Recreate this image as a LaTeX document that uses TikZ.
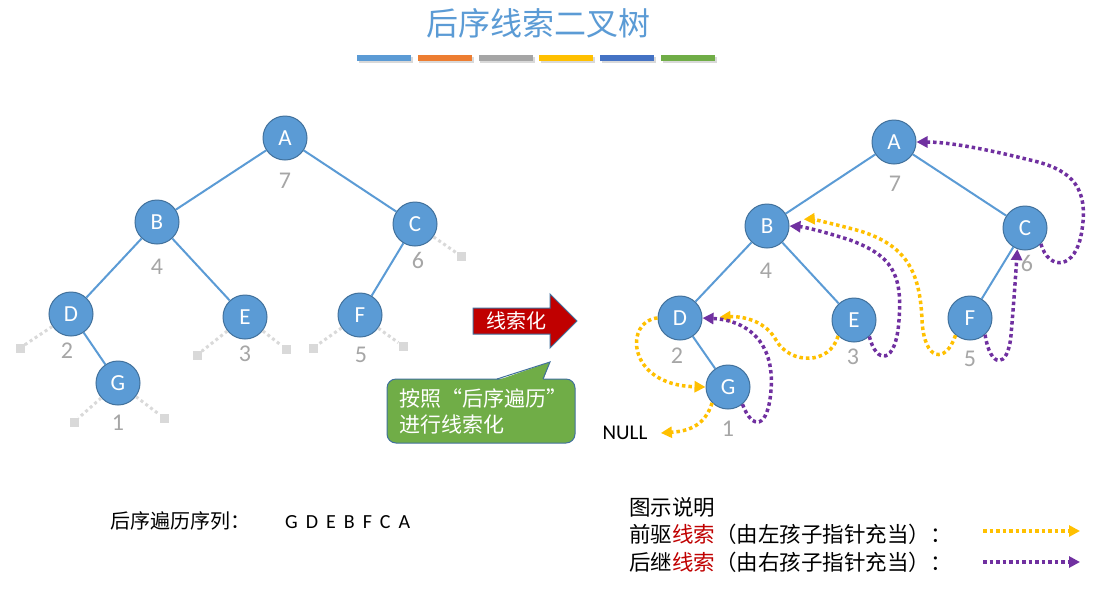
\documentclass[tikz,border=0pt]{standalone}
\usepackage{fontspec}
\setmainfont{Carlito}
\newfontfamily\cjk{Noto Sans CJK SC}
\usetikzlibrary{arrows.meta}
\definecolor{nodeblue}{HTML}{5B9BD5}
\definecolor{nodeedge}{HTML}{41719C}
\definecolor{numgray}{HTML}{A6A6A6}
\definecolor{stubgray}{HTML}{D9D9D9}
\definecolor{predyellow}{HTML}{FFC000}
\definecolor{succpurple}{HTML}{7030A0}
\definecolor{threadred}{HTML}{C00000}
\definecolor{calloutgreen}{HTML}{70AD47}
\definecolor{barorange}{HTML}{ED7D31}
\definecolor{bargray}{HTML}{A5A5A5}
\definecolor{bardarkblue}{HTML}{4472C4}
\newcommand\treefont{\fontsize{23}{27}\selectfont}
\newcommand\orderfont{\fontsize{24}{28}\selectfont}
\newcommand\keyfont{\fontsize{21.5}{26}\selectfont}

\begin{document}
\begin{tikzpicture}[x=1pt, y=-1pt,
    treenode/.style={circle, draw=nodeedge, line width=1pt, fill=nodeblue, minimum size=44pt, inner sep=0pt, text=white, font=\treefont},
    order/.style={text=numgray, font=\orderfont, inner sep=0pt},
    branch/.style={nodeblue, line width=2pt},
    nil/.style={rectangle, fill=stubgray, minimum size=9pt, inner sep=0pt},
    stub/.style={stubgray, line width=3pt, dash pattern=on 3pt off 3pt},
    pred/.style={predyellow, line width=3.5pt, dash pattern=on 3.5pt off 3pt, -{Triangle[length=11pt,width=11pt]}},
    succ/.style={pred, succpurple},
    legendtext/.style={anchor=west, inner sep=0pt, font=\cjk\keyfont}
]
    \fill[white] (0,0) rectangle (1118,590);
    \useasboundingbox (0,0) rectangle (1118,590);

    % titel en gekleurde balken
    \node[text=nodeblue, font=\cjk\fontsize{32}{36}\selectfont] (title) at (538,23) {后序线索二叉树};
    \foreach \c [count=\i] in {nodeblue,barorange,bargray,predyellow,bardarkblue,calloutgreen} {
        \pgfmathsetmacro\bx{357+(\i-1)*60.8}
        \fill[black!15] (\bx+1.5,57) rectangle (\bx+56,63);
        \fill[\c] (\bx,55) rectangle (\bx+54,61);
    }

    % linker boom
    \node[treenode] (lA) at (285,138) {A};
    \node[treenode] (lB) at (157,222) {B};
    \node[treenode] (lC) at (415,224) {C};
    \node[treenode] (lD) at (71,314) {D};
    \node[treenode] (lE) at (245,317) {E};
    \node[treenode] (lF) at (360,315) {F};
    \node[treenode] (lG) at (118,383) {G};
    \draw[branch] (lA) -- (lB);
    \draw[branch] (lA) -- (lC);
    \draw[branch] (lB) -- (lD);
    \draw[branch] (lB) -- (lE);
    \draw[branch] (lC) -- (lF);
    \draw[branch] (lD) -- (lG);

    % lege wijzers
    \node[nil] (lDl) at (20,348) {};
    \node[nil] (lCr) at (461,256) {};
    \node[nil] (lEl) at (197,355) {};
    \node[nil] (lEr) at (286,349) {};
    \node[nil] (lFl) at (313,348) {};
    \node[nil] (lFr) at (403,346) {};
    \node[nil] (lGl) at (74,422) {};
    \node[nil] (lGr) at (164,418) {};
    \draw[stub] (lD) -- (lDl);
    \draw[stub] (lC) -- (lCr);
    \draw[stub] (lE) -- (lEl);
    \draw[stub] (lE) -- (lEr);
    \draw[stub] (lF) -- (lFl);
    \draw[stub] (lF) -- (lFr);
    \draw[stub] (lG) -- (lGl);
    \draw[stub] (lG) -- (lGr);

    \node[order] (lnA) at (285,181) {7};
    \node[order] (lnB) at (157,267) {4};
    \node[order] (lnC) at (418,260) {6};
    \node[order] (lnD) at (67,351) {2};
    \node[order] (lnE) at (245,354) {3};
    \node[order] (lnF) at (361,355) {5};
    \node[order] (lnG) at (118,423) {1};

    % pijl en toelichting
    \draw[fill=threadred, draw=nodeedge, line width=1pt] (473,308) -- (550,308) -- (550,294) -- (577,321)
        -- (550,348) -- (550,334) -- (473,334) -- cycle;
    \node[text=white, font=\cjk\fontsize{20}{24}\selectfont] (mkthread) at (516,321) {线索化};
    \node[draw=nodeedge, line width=1pt, fill=calloutgreen, rounded corners=9pt, minimum width=188pt,
        minimum height=64pt, text width=164pt, align=left, text=white,
        font=\cjk\fontsize{21}{26}\selectfont] (hint) at (481,411) {按照“后序遍历”\\进行线索化};
    \fill[calloutgreen] (497,380.5) -- (550,362) -- (543,380.5) -- cycle;
    \draw[nodeedge, line width=1pt] (497,379) -- (550,362) -- (543,379);

    % rechter boom
    \node[treenode] (rA) at (894,142) {A};
    \node[treenode] (rB) at (767,226) {B};
    \node[treenode] (rC) at (1025,228) {C};
    \node[treenode] (rD) at (680,318) {D};
    \node[treenode] (rE) at (854,320) {E};
    \node[treenode] (rF) at (970,318) {F};
    \node[treenode] (rG) at (728,387) {G};
    \draw[branch] (rA) -- (rB);
    \draw[branch] (rA) -- (rC);
    \draw[branch] (rB) -- (rD);
    \draw[branch] (rB) -- (rE);
    \draw[branch] (rC) -- (rF);
    \draw[branch] (rD) -- (rG);

    \node[order] (rnA) at (895,184) {7};
    \node[order] (rnB) at (766,271) {4};
    \node[order] (rnC) at (1027,263) {6};
    \node[order] (rnD) at (677,356) {2};
    \node[order] (rnE) at (853,357) {3};
    \node[order] (rnF) at (970,359) {5};
    \node[order] (rnG) at (728,429) {1};
    \node[font=\fontsize{21}{25}\selectfont] (null) at (625,433) {NULL};

    % voorganger-draden
    \draw[pred] (rD.180) .. controls (625,320) and (625,385) .. (rG.180);
    \draw[pred] (rG.225) .. controls (705,425) and (690,431) .. ([xshift=10pt]null.east);
    \draw[pred, shorten >=17pt] (rE.225) .. controls (830,365) and (790,365) .. (776,340)
        .. controls (766,322) and (745,316) .. (rD.east);
    \draw[pred, shorten >=15pt] (rF.230) .. controls (946,364) and (924,362) .. (922,320)
        .. controls (920,270) and (905,245) .. (860,231) .. controls (835,224) and (810,219) .. (rB.15);

    % opvolger-draden
    \draw[succ] (rG.-50) .. controls (752,430) and (768,430) .. (771,390)
        .. controls (775,340) and (745,320) .. (rD.east);
    \draw[succ] (rE.-47) .. controls (876,364) and (896,366) .. (899,320)
        .. controls (903,272) and (890,255) .. (850,240) .. controls (825,232) and (805,227) .. (rB.east);
    \draw[succ] (rF.-48) .. controls (990,368) and (1008,370) .. (1011,335)
        .. controls (1014,300) and (1016,270) .. (rC.250);
    \draw[succ] (rC.-45) .. controls (1048,270) and (1076,272) .. (1082,230)
        .. controls (1088,190) and (1075,170) .. (1030,160) .. controls (990,150) and (950,142) .. (rA.east);

    % volgorde en legenda
    \node[anchor=west, inner sep=0pt, font=\fontsize{20}{24}\selectfont] (postorder) at (110,521)
        {{\cjk 后序遍历序列：}\hspace{35pt}{\spaceskip=8pt G D E B F C A}};
    \node[legendtext] (legend) at (629,507) {图示说明};
    \node[legendtext] (predkey) at (629,534) {前驱{\color{threadred}线索}（由左孩子指针充当）：};
    \node[legendtext] (succkey) at (629,562) {后继{\color{threadred}线索}（由右孩子指针充当）：};
    \coordinate (predfrom) at (983,531);
    \coordinate (predto) at (1080,531);
    \coordinate (succfrom) at (983,562);
    \coordinate (succto) at (1080,562);
    \draw[pred] (predfrom) -- (predto);
    \draw[succ] (succfrom) -- (succto);
\end{tikzpicture}
\end{document}
